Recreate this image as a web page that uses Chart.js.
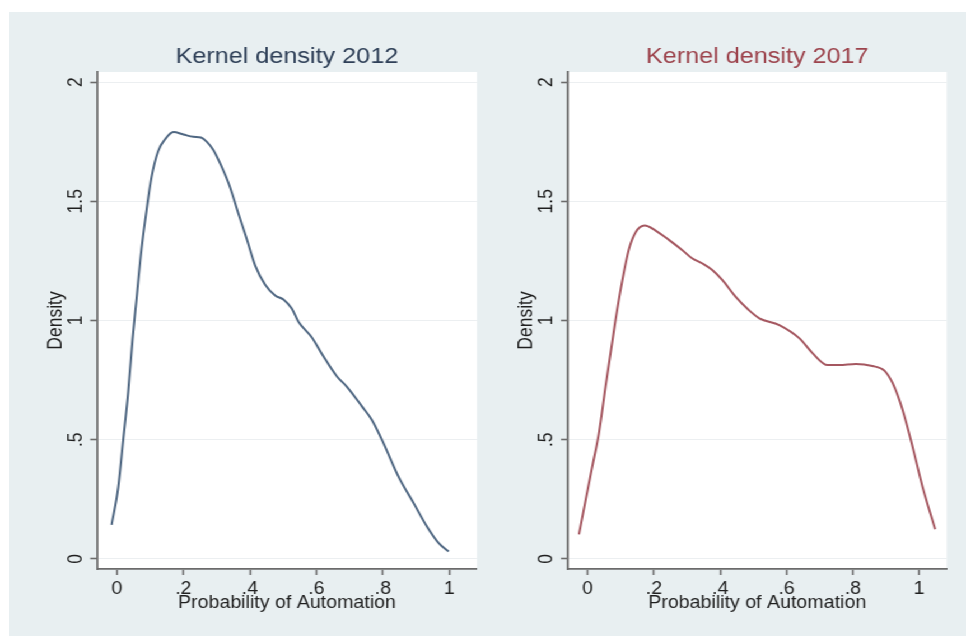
<!DOCTYPE html>
<html>
<head>
<meta charset="utf-8">
<title>Kernel density of automation probability</title>
<script src="https://cdn.jsdelivr.net/npm/chart.js@4/dist/chart.umd.min.js"></script>
<style>
  html, body { margin: 0; padding: 0; background: #ffffff; }
  #page { position: relative; width: 966px; height: 638px; overflow: hidden; background: #ffffff; }
  #backdrop { position: absolute; left: 9px; top: 12px; width: 957px; height: 624px; background: #e8eff1; }
  #stretch { position: absolute; left: 0; top: 0; height: 638px; transform-origin: 0 0; }
  #stretch canvas { position: absolute; top: 12px; }
</style>
</head>
<body>
<div id="page">
  <div id="backdrop"></div>
  <div id="stretch">
    <canvas id="panel2012"></canvas>
    <canvas id="panel2017"></canvas>
  </div>
</div>
<script>
// Estimated kernel density, 2012
const x2012 = [-0.016, 0.004, 0.019, 0.034, 0.047, 0.059, 0.074, 0.089, 0.104, 0.124,
  0.145, 0.170, 0.200, 0.230, 0.253, 0.270, 0.290, 0.315, 0.340, 0.365,
  0.391, 0.416, 0.446, 0.476, 0.501, 0.526, 0.546, 0.586, 0.621, 0.662,
  0.692, 0.737, 0.767, 0.802, 0.847, 0.893, 0.933, 0.968, 0.998];
const density2012 = [0.143, 0.30, 0.50, 0.70, 0.92, 1.09, 1.30, 1.46, 1.60, 1.71,
  1.76, 1.79, 1.78, 1.77, 1.767, 1.75, 1.715, 1.645, 1.56, 1.45,
  1.34, 1.23, 1.15, 1.105, 1.088, 1.05, 0.995, 0.93, 0.85, 0.765,
  0.722, 0.64, 0.583, 0.485, 0.345, 0.233, 0.135, 0.066, 0.031];

// Estimated kernel density, 2017
const x2017 = [-0.026, -0.006, 0.014, 0.034, 0.054, 0.084, 0.105, 0.124, 0.145, 0.172,
  0.205, 0.245, 0.285, 0.315, 0.345, 0.376, 0.406, 0.446, 0.486, 0.518,
  0.578, 0.639, 0.679, 0.724, 0.759, 0.809, 0.859, 0.895, 0.920, 0.950,
  0.980, 1.010, 1.048];
const density2017 = [0.103, 0.247, 0.387, 0.527, 0.722, 1.00, 1.17, 1.296, 1.37, 1.398,
  1.377, 1.338, 1.296, 1.261, 1.24, 1.212, 1.17, 1.10, 1.044, 1.009,
  0.981, 0.925, 0.862, 0.813, 0.813, 0.818, 0.809, 0.79, 0.737, 0.625,
  0.471, 0.303, 0.125];

const xTickValues = [0, 0.2, 0.4, 0.6, 0.8, 1];
const yTickValues = [0, 0.5, 1, 1.5, 2];

const title2012 = 'Kernel density 2012';
const title2017 = 'Kernel density 2017';
const xAxisTitle = 'Probability of Automation';
const yAxisTitle = 'Density';

// ---- presentation ----
const STRETCH = 1.12;          // horizontal stretch of the whole figure
const FONT = '"Liberation Sans", Arial, Helvetica, sans-serif';
const AXIS_COLOR = '#6b6b6b';
const TEXT_COLOR = '#1f1f1f';
const GRID_COLOR = '#eceff1';
const CANVAS_H = 624;
const PLOT_BOTTOM = 557;       // canvas y of plot bottom
const TITLE_SIZE = 22.5;
const LABEL_SIZE = 17.5;

const stretchBox = document.getElementById('stretch');
stretchBox.style.width = (966 / STRETCH) + 'px';
stretchBox.style.transform = 'scaleX(' + STRETCH + ')';

// Stata-style number format: 0.2 -> ".2"
function stataNum(v) {
  const s = String(Math.round(v * 1000) / 1000);
  return s.replace(/^0\./, '.').replace(/^-0\./, '-.');
}

// white plot region
const plotBackground = {
  id: 'plotBackground',
  beforeDraw(chart) {
    const a = chart.chartArea, ctx = chart.ctx;
    ctx.save();
    ctx.fillStyle = '#ffffff';
    ctx.fillRect(a.left, a.top, a.right - a.left, a.bottom - a.top);
    ctx.restore();
  }
};

// vertical-reading y tick labels placed on the y scale's tick positions
const rotatedYTicks = {
  id: 'rotatedYTicks',
  afterDraw(chart) {
    const ys = chart.scales.y, ctx = chart.ctx;
    const x = chart.chartArea.left - 21 / STRETCH;
    ctx.save();
    ctx.font = LABEL_SIZE + 'px ' + FONT;
    ctx.fillStyle = TEXT_COLOR;
    ctx.textAlign = 'center';
    ctx.textBaseline = 'middle';
    yTickValues.forEach(v => {
      const y = ys.getPixelForValue(v);
      ctx.save();
      ctx.translate(x, y);
      ctx.rotate(-Math.PI / 2);
      ctx.fillText(stataNum(v), 0, 0);
      ctx.restore();
    });
    ctx.restore();
  }
};

function makePanel(id, geo, xs, ys, title, titleColor, lineColor) {
  const canvas = document.getElementById(id);
  const w = Math.round(geo.canvasWidth / STRETCH);
  canvas.width = w;
  canvas.height = CANVAS_H;
  canvas.style.left = (geo.canvasLeft / STRETCH) + 'px';

  const yScaleWidth = (geo.plotLeft - geo.canvasLeft) / STRETCH;
  const rightPad = w - (geo.plotRight - geo.canvasLeft) / STRETCH;
  const yTitleCenter = (geo.yTitleX - geo.canvasLeft) / STRETCH;
  const titleLine = TITLE_SIZE * 1.2;
  const labelLine = LABEL_SIZE * 1.2;

  return new Chart(canvas, {
    type: 'line',
    data: {
      datasets: [{
        data: xs.map((v, i) => ({ x: v, y: ys[i] })),
        borderColor: lineColor,
        borderWidth: 2,
        pointRadius: 0,
        fill: false,
        cubicInterpolationMode: 'monotone'
      }]
    },
    options: {
      responsive: false,
      animation: false,
      devicePixelRatio: 1,
      layout: { autoPadding: false, padding: { left: 0, right: rightPad, top: 0, bottom: 0 } },
      plugins: {
        legend: { display: false },
        tooltip: { enabled: false },
        title: {
          display: true,
          text: title,
          color: titleColor,
          fullSize: false,
          font: { family: FONT, size: TITLE_SIZE, weight: 'normal' },
          padding: { top: 45 - titleLine / 2, bottom: 60 - 45 - titleLine / 2 }
        }
      },
      scales: {
        x: {
          type: 'linear',
          min: -0.06,
          max: 1.083,
          afterBuildTicks: s => { s.ticks = xTickValues.map(v => ({ value: v })); },
          afterFit: s => { s.height = CANVAS_H - PLOT_BOTTOM; },
          grid: { drawOnChartArea: false, tickColor: AXIS_COLOR, tickLength: 6, tickWidth: 1.6 },
          border: { display: true, color: AXIS_COLOR, width: 1.8 },
          ticks: {
            autoSkip: false, maxRotation: 0, padding: 577 - PLOT_BOTTOM - 6 - labelLine / 2,
            color: TEXT_COLOR,
            font: { family: FONT, size: LABEL_SIZE },
            callback: v => stataNum(v)
          },
          title: {
            display: true, text: xAxisTitle, color: TEXT_COLOR,
            font: { family: FONT, size: LABEL_SIZE },
            padding: { top: 0, bottom: CANVAS_H - 591 - labelLine / 2 }
          }
        },
        y: {
          type: 'linear',
          min: -0.042,
          max: 2.042,
          afterBuildTicks: s => { s.ticks = yTickValues.map(v => ({ value: v })); },
          afterFit: s => { s.width = yScaleWidth; },
          grid: { color: GRID_COLOR, lineWidth: 1, tickColor: AXIS_COLOR, tickLength: 6, tickWidth: 1.6 },
          border: { display: true, color: AXIS_COLOR, width: 1.8 },
          ticks: { display: false },
          title: {
            display: true, text: yAxisTitle, color: TEXT_COLOR,
            font: { family: FONT, size: LABEL_SIZE },
            padding: { top: yTitleCenter - labelLine / 2, bottom: 0 }
          }
        }
      }
    },
    plugins: [plotBackground, rotatedYTicks]
  });
}

makePanel('panel2012',
  { canvasLeft: 9, canvasWidth: 474, plotLeft: 97, plotRight: 477, yTitleX: 56 },
  x2012, density2012, title2012, '#2f4058', '#4f6782');

makePanel('panel2017',
  { canvasLeft: 483, canvasWidth: 483, plotLeft: 568, plotRight: 947, yTitleX: 527 },
  x2017, density2017, title2017, '#9c434c', '#a55760');
</script>
</body>
</html>
